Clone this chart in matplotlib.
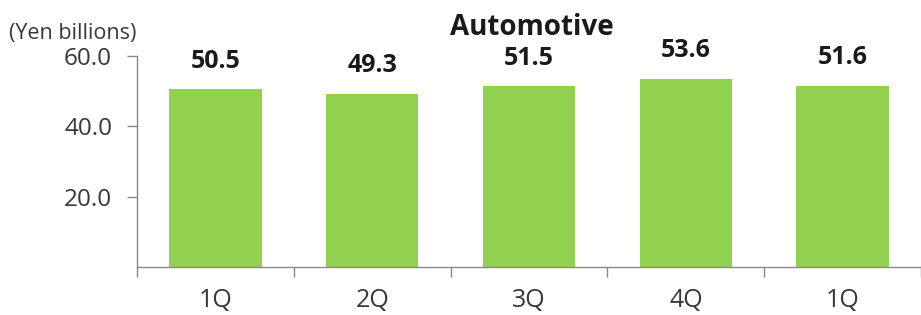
"""
Automotive segment quarterly sales bar chart.
"""
import matplotlib.pyplot as plt
from matplotlib.ticker import FixedLocator

quarters = ['1Q', '2Q', '3Q', '4Q', '1Q']
sales = [50.5, 49.3, 51.5, 53.6, 51.6]
y_ticks = [20.0, 40.0, 60.0]

plt.rcParams['font.family'] = ['Open Sans', 'DejaVu Sans']

fig = plt.figure(figsize=(9.21, 3.15), dpi=100)
ax = fig.add_axes([0.1488, 0.1524, 0.8512, 0.6698])

x = list(range(len(quarters)))
ax.bar(x, sales, width=0.59, color='#92d050', zorder=2)

# Bold value labels above each bar.
for xi, v in zip(x, sales):
    ax.annotate(f'{v:.1f}', (xi, v), xytext=(0, 11), textcoords='offset points',
                ha='center', va='bottom', fontsize=18, fontweight='bold',
                color='#1a1a1a')

ax.set_xlim(-0.5, len(quarters) - 0.5)
ax.set_ylim(0, 60)
ax.set_yticks(y_ticks)
ax.set_yticklabels([f'{t:.1f}' for t in y_ticks], fontsize=17.5, color='#383838')
ax.set_xticks(x)
ax.set_xticklabels(quarters, fontsize=18, color='#383838')
ax.tick_params(axis='x', length=0, pad=15)
ax.tick_params(axis='y', direction='out', length=7, width=1, color='#888888', pad=11)

# Boundary ticks between categories on the x axis.
ax.xaxis.set_minor_locator(FixedLocator([i - 0.5 for i in range(len(quarters) + 1)]))
ax.tick_params(axis='x', which='minor', direction='out', length=7, width=1,
               color='#888888')

for side in ['top', 'right']:
    ax.spines[side].set_visible(False)
for side in ['left', 'bottom']:
    ax.spines[side].set_color('#888888')
    ax.spines[side].set_linewidth(1)

fig.text(0.010, 0.893, '(Yen billions)', fontsize=15.5, color='#383838',
         ha='left', va='center')
fig.text(0.578, 0.912, 'Automotive', fontsize=20, fontweight='bold',
         color='#1a1a1a', ha='center', va='center')

fig.savefig('out.png', dpi=100)
